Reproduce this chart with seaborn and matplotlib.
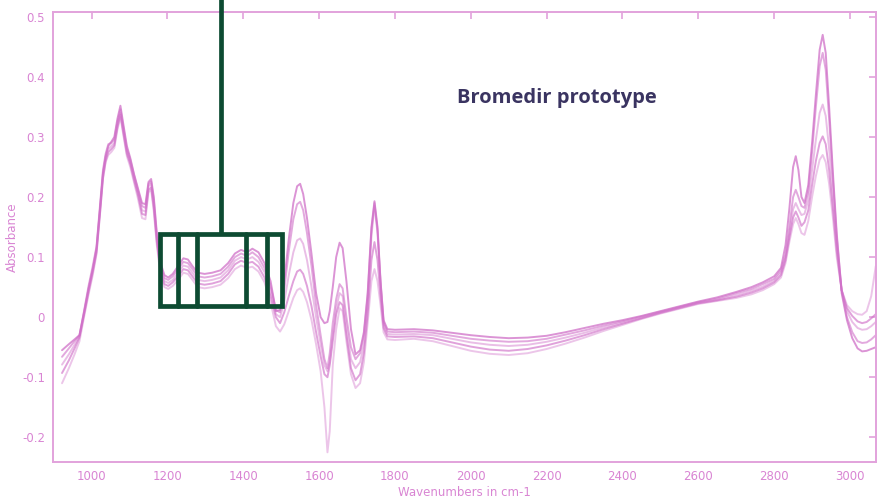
import numpy as np
import pandas as pd
import matplotlib
matplotlib.use("Agg")
import matplotlib.pyplot as plt
from matplotlib.patches import Rectangle
import seaborn as sns

"""Data read off the reference picture"""
wavenumbers = [
    922, 940, 955, 968, 980, 992, 1003, 1013, 1022, 1030,
    1037, 1044, 1052, 1060, 1068, 1076, 1084, 1093, 1102, 1112,
    1122, 1133, 1142, 1150, 1157, 1164, 1172, 1182, 1192, 1202,
    1214, 1228, 1242, 1254, 1266, 1280, 1298, 1318, 1340, 1360,
    1378, 1394, 1410, 1424, 1440, 1456, 1472, 1486, 1497, 1508,
    1520, 1532, 1542, 1550, 1558, 1568, 1580, 1592, 1604, 1614,
    1622, 1628, 1636, 1645, 1654, 1662, 1672, 1684, 1696, 1708,
    1718, 1728, 1738, 1746, 1754, 1762, 1770, 1780, 1800, 1850,
    1900, 1950, 2000, 2050, 2100, 2150, 2200, 2250, 2300, 2350,
    2400, 2450, 2500, 2550, 2600, 2650, 2700, 2740, 2770, 2800,
    2818, 2830, 2840, 2850, 2857, 2864, 2872, 2880, 2890, 2900,
    2910, 2920, 2928, 2936, 2945, 2955, 2965, 2978, 2992, 3006,
    3020, 3032, 3044, 3056, 3068,
]

spectrum_1 = [
    -0.055, -0.045, -0.037, -0.030, 0.008, 0.048, 0.080, 0.115, 0.180, 0.240,
    0.268, 0.285, 0.292, 0.300, 0.330, 0.352, 0.320, 0.285, 0.265, 0.238,
    0.215, 0.190, 0.188, 0.225, 0.230, 0.200, 0.140, 0.090, 0.070, 0.066,
    0.072, 0.085, 0.098, 0.096, 0.085, 0.074, 0.072, 0.074, 0.078, 0.090,
    0.106, 0.112, 0.108, 0.114, 0.108, 0.090, 0.060, 0.010, 0.012, 0.060,
    0.130, 0.190, 0.218, 0.222, 0.205, 0.165, 0.105, 0.040, 0.000, -0.010,
    -0.008, 0.010, 0.050, 0.100, 0.124, 0.115, 0.060, -0.020, -0.062, -0.055,
    -0.025, 0.040, 0.150, 0.193, 0.150, 0.060, -0.005, -0.020, -0.021, -0.020,
    -0.022, -0.026, -0.030, -0.033, -0.035, -0.034, -0.031, -0.025, -0.018, -0.011,
    -0.005, 0.002, 0.010, 0.018, 0.026, 0.033, 0.042, 0.050, 0.058, 0.068,
    0.082, 0.120, 0.180, 0.250, 0.268, 0.245, 0.200, 0.190, 0.220, 0.290,
    0.370, 0.445, 0.470, 0.440, 0.350, 0.240, 0.140, 0.040, -0.005, -0.035,
    -0.052, -0.057, -0.056, -0.053, -0.050,
]

spectrum_2 = [
    -0.066, -0.052, -0.040, -0.030, 0.010, 0.052, 0.085, 0.118, 0.185, 0.245,
    0.272, 0.288, 0.290, 0.296, 0.325, 0.346, 0.315, 0.280, 0.262, 0.236,
    0.212, 0.185, 0.182, 0.222, 0.226, 0.195, 0.135, 0.085, 0.065, 0.062,
    0.068, 0.080, 0.092, 0.090, 0.080, 0.068, 0.066, 0.068, 0.072, 0.084,
    0.100, 0.106, 0.102, 0.108, 0.100, 0.082, 0.052, 0.012, 0.008, 0.045,
    0.110, 0.163, 0.188, 0.192, 0.178, 0.140, 0.085, 0.020, -0.030, -0.070,
    -0.085, -0.060, -0.010, 0.030, 0.055, 0.048, 0.000, -0.050, -0.070, -0.060,
    -0.030, 0.035, 0.145, 0.190, 0.145, 0.058, -0.008, -0.024, -0.025, -0.024,
    -0.026, -0.031, -0.036, -0.039, -0.041, -0.040, -0.036, -0.029, -0.022, -0.014,
    -0.007, 0.001, 0.009, 0.017, 0.025, 0.031, 0.040, 0.047, 0.055, 0.064,
    0.078, 0.105, 0.150, 0.200, 0.212, 0.200, 0.185, 0.182, 0.210, 0.275,
    0.350, 0.418, 0.440, 0.412, 0.330, 0.228, 0.134, 0.045, 0.000, -0.025,
    -0.040, -0.043, -0.042, -0.037, -0.030,
]

spectrum_3 = [
    -0.079, -0.062, -0.046, -0.032, 0.006, 0.046, 0.078, 0.112, 0.178, 0.238,
    0.265, 0.280, 0.285, 0.290, 0.320, 0.340, 0.310, 0.276, 0.258, 0.232,
    0.208, 0.178, 0.176, 0.218, 0.222, 0.188, 0.130, 0.080, 0.060, 0.057,
    0.062, 0.074, 0.086, 0.084, 0.074, 0.062, 0.060, 0.062, 0.066, 0.078,
    0.094, 0.100, 0.096, 0.100, 0.092, 0.075, 0.045, 0.005, 0.000, 0.025,
    0.070, 0.108, 0.128, 0.131, 0.122, 0.095, 0.050, 0.000, -0.045, -0.080,
    -0.090, -0.075, -0.030, 0.015, 0.040, 0.035, -0.015, -0.070, -0.085, -0.075,
    -0.045, 0.020, 0.135, 0.185, 0.140, 0.055, -0.012, -0.028, -0.029, -0.028,
    -0.030, -0.036, -0.042, -0.046, -0.048, -0.046, -0.041, -0.034, -0.026, -0.017,
    -0.009, -0.001, 0.008, 0.016, 0.024, 0.029, 0.037, 0.044, 0.051, 0.061,
    0.074, 0.100, 0.140, 0.180, 0.190, 0.180, 0.170, 0.172, 0.195, 0.245,
    0.295, 0.340, 0.354, 0.335, 0.280, 0.200, 0.120, 0.045, 0.010, -0.008,
    -0.018, -0.021, -0.020, -0.015, -0.008,
]

spectrum_4 = [
    -0.093, -0.072, -0.052, -0.034, 0.004, 0.042, 0.075, 0.108, 0.172, 0.232,
    0.260, 0.275, 0.280, 0.286, 0.316, 0.337, 0.306, 0.272, 0.255, 0.228,
    0.204, 0.172, 0.170, 0.212, 0.216, 0.182, 0.125, 0.075, 0.055, 0.052,
    0.058, 0.068, 0.080, 0.078, 0.068, 0.056, 0.054, 0.056, 0.060, 0.072,
    0.088, 0.094, 0.090, 0.092, 0.084, 0.066, 0.035, 0.000, -0.010, 0.008,
    0.035, 0.060, 0.076, 0.079, 0.072, 0.052, 0.018, -0.025, -0.065, -0.095,
    -0.100, -0.080, -0.040, 0.005, 0.025, 0.020, -0.030, -0.085, -0.105, -0.095,
    -0.060, 0.005, 0.095, 0.125, 0.095, 0.035, -0.018, -0.032, -0.033, -0.032,
    -0.035, -0.042, -0.049, -0.054, -0.056, -0.053, -0.047, -0.039, -0.030, -0.020,
    -0.011, -0.002, 0.007, 0.015, 0.023, 0.028, 0.034, 0.041, 0.048, 0.058,
    0.070, 0.095, 0.132, 0.166, 0.176, 0.166, 0.152, 0.158, 0.178, 0.220,
    0.260, 0.290, 0.301, 0.288, 0.245, 0.180, 0.110, 0.045, 0.015, 0.002,
    -0.007, -0.010, -0.008, -0.002, 0.005,
]

spectrum_5 = [
    -0.110, -0.085, -0.062, -0.040, 0.000, 0.038, 0.070, 0.105, 0.170, 0.230,
    0.258, 0.270, 0.275, 0.282, 0.312, 0.333, 0.302, 0.268, 0.250, 0.224,
    0.198, 0.165, 0.163, 0.208, 0.212, 0.176, 0.120, 0.068, 0.050, 0.047,
    0.052, 0.062, 0.074, 0.072, 0.062, 0.050, 0.048, 0.050, 0.054, 0.065,
    0.080, 0.086, 0.082, 0.084, 0.076, 0.058, 0.025, -0.015, -0.024, -0.012,
    0.010, 0.032, 0.045, 0.048, 0.042, 0.025, -0.005, -0.045, -0.090, -0.150,
    -0.225, -0.190, -0.080, -0.020, 0.015, 0.010, -0.040, -0.095, -0.118, -0.110,
    -0.075, -0.010, 0.060, 0.080, 0.060, 0.020, -0.025, -0.037, -0.038, -0.036,
    -0.040, -0.048, -0.056, -0.061, -0.063, -0.060, -0.053, -0.044, -0.034, -0.023,
    -0.013, -0.003, 0.006, 0.014, 0.022, 0.027, 0.032, 0.038, 0.045, 0.055,
    0.066, 0.090, 0.125, 0.155, 0.165, 0.155, 0.140, 0.137, 0.160, 0.200,
    0.235, 0.262, 0.270, 0.258, 0.222, 0.165, 0.100, 0.045, 0.020, 0.010,
    0.005, 0.004, 0.010, 0.035, 0.085,
]

spectra = [spectrum_1, spectrum_2, spectrum_3, spectrum_4, spectrum_5]
line_alphas = [0.75, 0.6, 0.45, 0.65, 0.4]

x_ticks = [1000, 1200, 1400, 1600, 1800, 2000, 2200, 2400, 2600, 2800, 3000]
y_ticks = [-0.2, -0.1, 0, 0.1, 0.2, 0.3, 0.4, 0.5]
y_tick_labels = ["-0.2", "-0.1", "0", "0.1", "0.2", "0.3", "0.4", "0.5"]

line_color = "#d070c8"
axis_color = "#e2a2dc"
text_color = "#d985d3"
box_color = "#0d4b32"

sns.set_style("white")
plt.rcParams["font.family"] = ["DejaVu Sans"]

fig = plt.figure(figsize=(8.81, 5.01), dpi=100)
ax = fig.add_axes([0.0605, 0.078, 0.934, 0.898])

for values, a in zip(spectra, line_alphas):
    df = pd.DataFrame({"wavenumber": wavenumbers, "absorbance": values})
    sns.lineplot(data=df, x="wavenumber", y="absorbance", ax=ax, sort=False,
                 color=line_color, alpha=a, linewidth=1.4)

ax.set_xlim(899, 3069)
ax.set_ylim(-0.241, 0.508)
ax.set_xticks(x_ticks)
ax.set_xticklabels([str(t) for t in x_ticks])
ax.set_yticks(y_ticks)
ax.set_yticklabels(y_tick_labels)
ax.tick_params(direction="in", length=5, width=1.2, color=axis_color,
               labelcolor=text_color, labelsize=8.5, top=True, right=True, pad=6)
for s in ax.spines.values():
    s.set_color(axis_color)
    s.set_linewidth(1.4)
ax.set_xlabel("Wavenumbers in cm-1", color=text_color, fontsize=8.5, labelpad=2)
ax.set_ylabel("Absorbance", color=text_color, fontsize=8.5, labelpad=2)

# green selection box over the 1180-1500 region
box_left, box_right = 1180, 1501
box_bottom, box_top = 0.019, 0.138
ax.add_patch(Rectangle((box_left, box_bottom), box_right - box_left, box_top - box_bottom,
                       fill=False, edgecolor=box_color, linewidth=3.4, zorder=5))
for xv in [1228, 1278, 1407, 1463]:
    ax.plot([xv, xv], [box_bottom, box_top], color=box_color, linewidth=3.4, zorder=5)
ax.plot([1340, 1340], [box_top, 0.54], color=box_color, linewidth=3.4, zorder=5,
        clip_on=False, solid_capstyle="butt")

fig.text(0.519, 0.804, "Bromedir prototype", fontsize=14.5, fontweight="bold",
         color="#3a3461", family=["Open Sans", "DejaVu Sans"], ha="left", va="center")

fig.savefig("out.png", dpi=100)
